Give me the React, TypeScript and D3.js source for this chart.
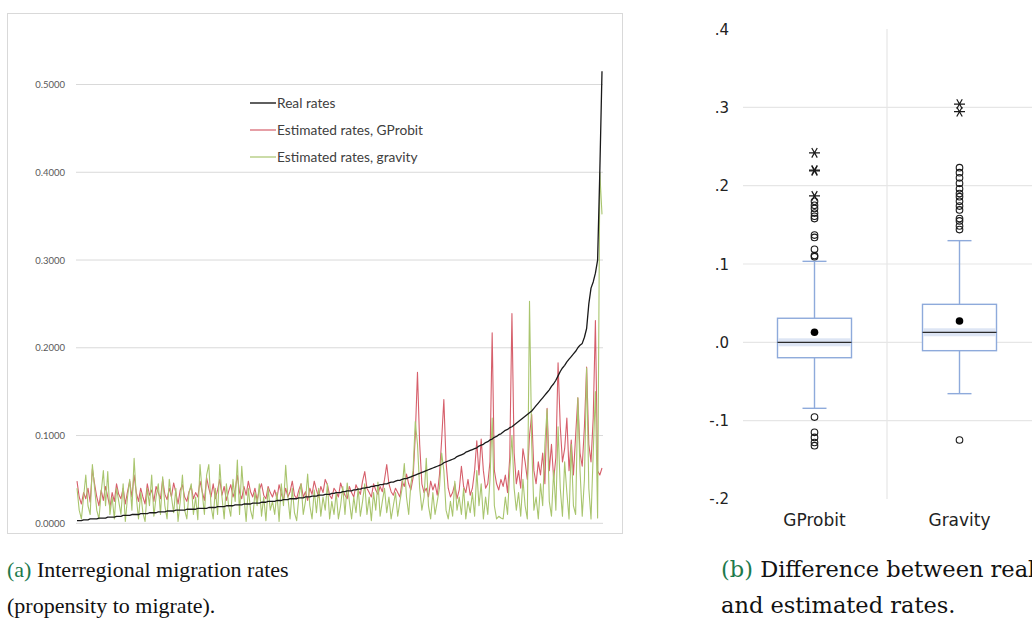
import React from "react";
import * as d3 from "d3";

// ---- Panel (a): interregional migration rates (values in thousandths) ----
const realRates = [
  3, 3, 3, 4, 4, 4, 5, 5, 5, 5,
  6, 6, 6, 6, 7, 7, 7, 7, 8, 8,
  8, 9, 9, 9, 9, 10, 10, 10, 10, 11,
  11, 11, 11, 12, 12, 12, 12, 13, 13, 13,
  13, 14, 14, 14, 14, 15, 15, 15, 15, 15,
  16, 16, 16, 16, 16, 17, 17, 17, 17, 17,
  18, 18, 18, 18, 19, 19, 19, 19, 20, 20,
  20, 20, 21, 21, 21, 21, 22, 22, 22, 22,
  23, 23, 23, 23, 24, 24, 24, 25, 25, 25,
  25, 26, 26, 26, 27, 27, 27, 28, 28, 28,
  28, 29, 29, 29, 30, 30, 30, 31, 31, 31,
  32, 32, 32, 33, 33, 33, 34, 34, 35, 35,
  35, 36, 36, 37, 37, 37, 38, 38, 39, 39,
  40, 40, 41, 41, 42, 42, 43, 43, 44, 44,
  45, 45, 46, 47, 47, 48, 49, 49, 50, 51,
  51, 52, 53, 54, 55, 56, 57, 58, 59, 60,
  61, 62, 63, 64, 65, 66, 67, 69, 70, 71,
  72, 73, 74, 76, 77, 78, 79, 81, 82, 83,
  84, 85, 86, 88, 89, 90, 92, 93, 95, 96,
  98, 99, 101, 102, 104, 106, 107, 109, 110, 112,
  114, 116, 118, 120, 122, 124, 126, 128, 131, 134,
  137, 140, 143, 146, 149, 152, 156, 159, 163, 168,
  173, 177, 180, 184, 187, 190, 193, 196, 200, 203,
  205, 212, 222, 250, 268, 275, 285, 300, 400, 515,
];

const gprobitRates = [
  48, 30, 22, 35, 28, 40, 24, 62, 45, 30,
  20, 38, 26, 42, 30, 18, 35, 25, 45, 33,
  28, 40, 22, 36, 48, 30, 55, 35, 25, 40,
  30, 22, 45, 32, 38, 25, 42, 35, 28, 50,
  33, 27, 40, 30, 46, 35, 22, 38, 44, 30,
  25, 36, 42, 28, 35, 30, 48, 36, 26, 52,
  40, 30, 45, 28, 38, 50, 32, 42, 26, 36,
  44, 30, 38, 55, 35, 28, 42, 32, 48, 36,
  30, 40, 26, 38, 45, 32, 28, 42, 35, 30,
  38, 28, 44, 34, 26, 40, 30, 36, 48, 32,
  28, 38, 45, 30, 36, 26, 40, 33, 48, 38,
  30, 42, 35, 50, 44, 32, 28, 40, 36, 30,
  46, 38, 32, 28, 42, 35, 30, 44, 38, 33,
  48, 59, 40, 35, 30, 45, 38, 33, 42, 36,
  50, 67, 45, 36, 32, 40, 35, 30, 48, 42,
  56, 45, 38, 52, 100, 172, 90, 45, 35, 40,
  30, 48, 38, 45, 32, 55, 95, 141, 70, 40,
  30, 35, 45, 28, 38, 65, 42, 35, 50, 32,
  40, 60, 94, 55, 96, 60, 40, 45, 70, 217,
  60, 45, 38, 50, 42, 55, 35, 75, 239, 80,
  45, 60, 40, 85, 70, 50, 100, 124, 60, 45,
  70, 55, 80, 45, 131, 60, 90, 50, 75, 183,
  110, 70, 85, 120, 60, 95, 55, 100, 143, 80,
  65, 110, 178, 90, 70, 120, 231, 60, 55, 63,
];

const gravityRates = [
  40, 15, 5, 30, 55, 20, 10, 67, 40, 15,
  5, 35, 60, 20, 59, 10, 30, 5, 40, 25,
  10, 45, 2, 30, 50, 15, 74, 30, 5, 35,
  12, 2, 40, 20, 55, 8, 30, 45, 10, 53,
  20, 5, 50, 30, 12, 40, 2, 25, 55, 15,
  5, 35, 45, 10, 30, 4, 67, 35, 10, 55,
  67, 20, 5, 40, 10, 67, 30, 5, 45, 20,
  8, 50, 25, 72, 10, 65, 30, 2, 40, 15,
  5, 35, 20, 45, 8, 30, 3, 40, 15, 25,
  10, 35, 2, 45, 20, 66, 30, 5, 40, 12,
  3, 30, 45, 10, 25, 56, 20, 5, 38, 12,
  40, 8, 30, 15, 45, 5, 25, 10, 35, 5,
  20, 42, 10, 46, 25, 5, 30, 12, 40, 8,
  25, 45, 10, 30, 3, 35, 15, 47, 8, 25,
  40, 12, 30, 5, 20, 35, 8, 25, 40, 68,
  30, 10, 45, 60, 116, 90, 40, 15, 30, 74,
  20, 5, 35, 10, 25, 40, 80, 60, 15, 5,
  25, 8, 48, 15, 30, 10, 40, 5, 25, 12,
  35, 8, 60, 20, 45, 5, 30, 10, 50, 120,
  20, 5, 8, 6, 5, 30, 10, 60, 100, 40,
  15, 35, 8, 50, 20, 5, 253, 90, 15, 30,
  5, 45, 20, 90, 130, 25, 8, 60, 15, 110,
  40, 8, 70, 35, 5, 90, 20, 10, 143, 60,
  8, 50, 177, 40, 5, 80, 150, 6, 400, 352,
];

const lineTicks = [0, 0.1, 0.2, 0.3, 0.4, 0.5];
const lineTickLabels = ["0.0000", "0.1000", "0.2000", "0.3000", "0.4000", "0.5000"];
const legendLabels = ["Real rates", "Estimated rates, GProbit", "Estimated rates, gravity"];
const seriesColors = ["#1a1a1a", "#d65f6b", "#a9c56e"];

// ---- Panel (b): box plot of differences ----
const boxCategories = ["GProbit", "Gravity"];
const boxQ1 = [-0.0197, -0.0107];
const boxMedian = [0.0, 0.0128];
const boxQ3 = [0.0307, 0.0485];
const whiskerLow = [-0.0843, -0.0656];
const whiskerHigh = [0.1034, 0.1298];
const boxMeans = [0.0128, 0.0272];
const outliersGProbit = [0.1093, 0.1108, 0.1188, 0.134, 0.137, 0.158, 0.161, 0.165, 0.171, 0.175, 0.18,
  -0.0955, -0.115, -0.1215, -0.128, -0.132];
const extremesGProbit = [0.187, 0.219, 0.22, 0.242];
const outliersGravity = [0.223, 0.2166, 0.21, 0.203, 0.196, 0.19, 0.186, 0.18, 0.174, 0.169, 0.158, 0.155,
  0.1485, 0.144, -0.1248];
const extremesGravity = [0.2945, 0.3043];
const boxTicks = [0.4, 0.3, 0.2, 0.1, 0, -0.1, -0.2];
const boxTickLabels = [".4", ".3", ".2", ".1", ".0", "-.1", "-.2"];

const captionA = ["Interregional migration rates", "(propensity to migrate)."];
const captionB = ["Difference between real", "and estimated rates."];

export default function App() {
  // Panel a scales
  const x = d3.scaleLinear().domain([0, realRates.length - 1]).range([77, 602]);
  const y = d3.scaleLinear().domain([0, 0.5]).range([523.3, 84.5]);
  const line = d3
    .line<number>()
    .x((_, i) => x(i))
    .y((d) => y(d / 1000));

  // Panel b scales
  const bx = d3.scaleBand<string>().domain(boxCategories).range([742, 1032]);
  const by = d3.scaleLinear().domain([-0.2, 0.4]).range([498.9, 29.1]);
  const boxW = 74;
  const capW = 24;
  const boxColor = "#8eaadb";

  const star = (cx: number, cy: number, r: number) => {
    const parts: string[] = [];
    for (const a of [0, 60, 120]) {
      const rad = (a * Math.PI) / 180;
      const dx = Math.cos(rad) * r;
      const dy = Math.sin(rad) * r;
      parts.push(`M${cx - dx},${cy - dy}L${cx + dx},${cy + dy}`);
    }
    return parts.join("");
  };

  const outliers = [outliersGProbit, outliersGravity];
  const extremes = [extremesGProbit, extremesGravity];

  return (
    <svg
      width={1032}
      height={621}
      style={{ position: "absolute", left: 0, top: 0, background: "#fff" }}
    >
      {/* ---------- Panel a ---------- */}
      <rect x={7.5} y={13.5} width={615} height={520} fill="#fff" stroke="#d9d9d9" strokeWidth={1} />
      {lineTicks.map((t, i) => (
        <g key={t}>
          <line x1={76} x2={603} y1={y(t)} y2={y(t)} stroke="#d9d9d9" strokeWidth={1} />
          <text
            x={65}
            y={y(t) + 3.5}
            textAnchor="end"
            fontFamily="Lato, 'Open Sans', sans-serif"
            fontSize={9.5}
            fill="#595959"
          >
            {lineTickLabels[i]}
          </text>
        </g>
      ))}
      <path d={line(gprobitRates) || ""} fill="none" stroke={seriesColors[1]} strokeWidth={1.1} strokeLinejoin="round" />
      <path d={line(gravityRates) || ""} fill="none" stroke={seriesColors[2]} strokeWidth={1.1} strokeLinejoin="round" />
      <path d={line(realRates) || ""} fill="none" stroke={seriesColors[0]} strokeWidth={1.3} strokeLinejoin="round" />
      {legendLabels.map((l, i) => (
        <g key={l}>
          <line
            x1={250}
            x2={276}
            y1={103 + i * 27}
            y2={103 + i * 27}
            stroke={seriesColors[i]}
            strokeWidth={i === 0 ? 1.4 : 1.2}
          />
          <text
            x={277}
            y={103 + i * 27 + 4.5}
            fontFamily="Lato, 'Open Sans', sans-serif"
            fontSize={13.7}
            fill="#404040"
          >
            {l}
          </text>
        </g>
      ))}

      {/* ---------- Panel b ---------- */}
      {boxTicks.map((t, i) => (
        <g key={"bt" + t}>
          {t !== 0.4 && t !== -0.2 && (
            <line x1={743} x2={1032} y1={by(t)} y2={by(t)} stroke="#e6e6e6" strokeWidth={1.2} />
          )}
          <text
            x={729}
            y={by(t) + 5.5}
            textAnchor="end"
            fontFamily="'DejaVu Sans', sans-serif"
            fontSize={15}
            fill="#222"
          >
            {boxTickLabels[i]}
          </text>
        </g>
      ))}
      <line
        x1={(bx("Gravity") as number)}
        x2={(bx("Gravity") as number)}
        y1={by(0.4)}
        y2={by(-0.2)}
        stroke="#e6e6e6"
        strokeWidth={1.2}
      />
      {boxCategories.map((c, i) => {
        const cx = (bx(c) as number) + bx.bandwidth() / 2;
        return (
          <g key={c}>
            {/* whiskers */}
            <line x1={cx} x2={cx} y1={by(boxQ3[i])} y2={by(whiskerHigh[i])} stroke={boxColor} strokeWidth={1.4} />
            <line x1={cx} x2={cx} y1={by(boxQ1[i])} y2={by(whiskerLow[i])} stroke={boxColor} strokeWidth={1.4} />
            <line x1={cx - capW / 2} x2={cx + capW / 2} y1={by(whiskerHigh[i])} y2={by(whiskerHigh[i])} stroke={boxColor} strokeWidth={1.4} />
            <line x1={cx - capW / 2} x2={cx + capW / 2} y1={by(whiskerLow[i])} y2={by(whiskerLow[i])} stroke={boxColor} strokeWidth={1.4} />
            {/* box */}
            <rect
              x={cx - boxW / 2}
              y={by(boxQ3[i])}
              width={boxW}
              height={by(boxQ1[i]) - by(boxQ3[i])}
              fill="#fff"
              stroke={boxColor}
              strokeWidth={1.4}
            />
            <rect
              x={cx - boxW / 2 + 0.7}
              y={by(boxMedian[i]) - 4}
              width={boxW - 1.4}
              height={8}
              fill="#dde5f4"
            />
            <line
              x1={cx - boxW / 2}
              x2={cx + boxW / 2}
              y1={by(boxMedian[i])}
              y2={by(boxMedian[i])}
              stroke="#2b2b2b"
              strokeWidth={1.3}
            />
            <circle cx={cx} cy={by(boxMeans[i])} r={3.8} fill="#000" />
            {outliers[i].map((v, k) => (
              <circle key={k} cx={cx} cy={by(v)} r={3.3} fill="none" stroke="#1a1a1a" strokeWidth={1.1} />
            ))}
            {extremes[i].map((v, k) => (
              <path key={k} d={star(cx, by(v), 5.5)} stroke="#1a1a1a" strokeWidth={1.2} fill="none" />
            ))}
            <text
              x={cx}
              y={526}
              textAnchor="middle"
              fontFamily="'DejaVu Sans', sans-serif"
              fontSize={17}
              fill="#222"
            >
              {c}
            </text>
          </g>
        );
      })}

      {/* ---------- Captions ---------- */}
      <g fontFamily="'Liberation Serif', 'Times New Roman', serif" fontSize={22} fill="#111">
        <text x={7} y={577}>
          <tspan fill="#1d7a4c">(a)</tspan> {captionA[0]}
        </text>
        <text x={7} y={613}>{captionA[1]}</text>
      </g>
      <g fontFamily="'DejaVu Serif', serif" fontSize={22.5} fill="#111">
        <text x={721} y={577}>
          <tspan fill="#1d7a4c">(b)</tspan> {captionB[0]}
        </text>
        <text x={721} y={613}>{captionB[1]}</text>
      </g>
    </svg>
  );
}
